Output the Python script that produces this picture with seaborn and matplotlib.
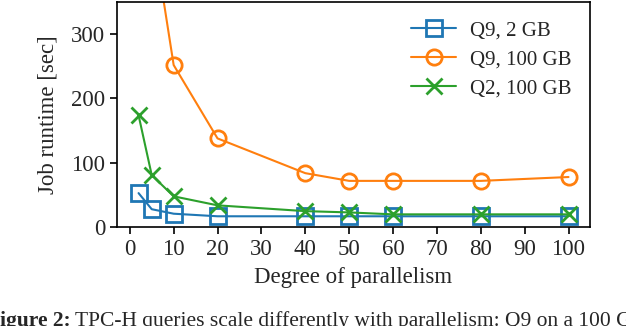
import seaborn as sns
import pandas as pd
import matplotlib.pyplot as plt

# degree of parallelism and job runtimes (sec)
dop = [2, 5, 10, 20, 40, 50, 60, 80, 100]
q9_2gb = [53, 28, 21, 17, 17, 17, 17, 17, 17]
q9_100gb = [1100, 470, 252, 138, 84, 72, 72, 72, 78]
q2_100gb = [174, 81, 48, 34, 25, 23, 20, 20, 20]

series = ['Q9, 2 GB', 'Q9, 100 GB', 'Q2, 100 GB']
markers = ['s', 'o', 'x']

df = pd.DataFrame({'dop': dop * 3,
                   'runtime': q9_2gb + q9_100gb + q2_100gb,
                   'series': sum([[s] * len(dop) for s in series], [])})

FS = 16.5

sns.set_style('ticks')
plt.rcParams['font.family'] = ['Liberation Serif', 'DejaVu Serif']
plt.rcParams['font.size'] = FS

pal = sns.color_palette('tab10', n_colors=3)
fig, ax = plt.subplots(figsize=(6.26, 3.26), dpi=100)
fig.subplots_adjust(left=0.187, right=0.9425, top=0.994, bottom=0.303)

for name, mk, col in zip(series, markers, pal):
    sns.lineplot(data=df[df['series'] == name], x='dop', y='runtime',
                 color=col, marker=mk, markersize=11, mfc='none', mec=col,
                 mew=2, lw=1.5, label=name, ax=ax)

ax.set_ylim(0, 350)
ax.set_xlim(-2.9, 104.9)
ax.set_xticks(range(0, 101, 10))
ax.set_yticks([0, 100, 200, 300])
ax.set_xlabel('Degree of parallelism', fontsize=FS, labelpad=5)
ax.set_ylabel('Job runtime [sec]', fontsize=FS, labelpad=9)
ax.tick_params(labelsize=FS, length=5, width=1.2, color='black')
for sp in ax.spines.values():
    sp.set_visible(True)
    sp.set_linewidth(1.2)
    sp.set_color('black')

ax.legend(loc='upper right', frameon=False, fontsize=15, handlelength=2.15,
          labelspacing=0.45, borderaxespad=0.5, handletextpad=0.65)

# caption below the chart (cut off by the figure edge)
CAP_FS = 15.5
cap = fig.text(-0.021, 0.0, 'Figure 2:', fontsize=CAP_FS, fontweight='bold',
               va='baseline', ha='left')
fig.canvas.draw()
bb = cap.get_window_extent(fig.canvas.get_renderer())
x1 = fig.transFigure.inverted().transform((bb.x1, bb.y0))[0]
fig.text(x1 + 0.008, 0.0,
         'TPC-H queries scale differently with parallelism: Q9 on a 100 GB input',
         fontsize=CAP_FS, va='baseline', ha='left')

fig.savefig('out.png', dpi=100)
